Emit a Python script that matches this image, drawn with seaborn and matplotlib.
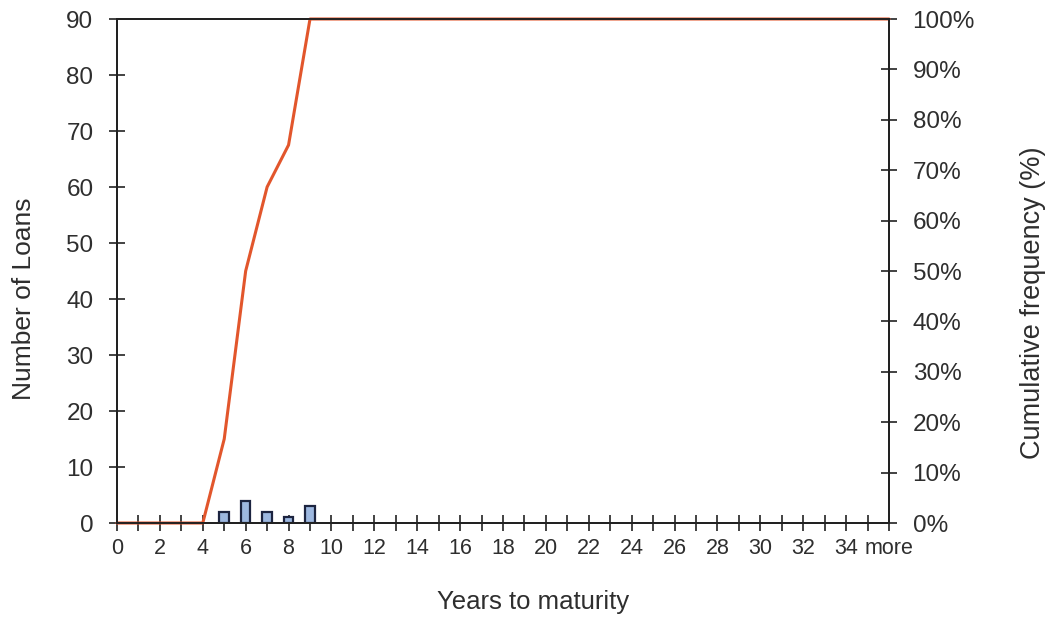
import matplotlib
matplotlib.use("Agg")
import matplotlib.pyplot as plt
import seaborn as sns
import pandas as pd

# Loan counts by years to maturity (bins 0..35 plus an overflow bin)
years = [str(i) for i in range(36)] + ["more"]
loans = [0, 0, 0, 0, 0, 2, 4, 2, 1, 3] + [0] * 27
tick_labels = [str(i) if i % 2 == 0 else "" for i in range(36)] + ["more"]

total = sum(loans)
cum_pct = []
running = 0
for n in loans:
    running += n
    cum_pct.append(100.0 * running / total)

df = pd.DataFrame({"years": years, "loans": loans,
                   "pos": list(range(len(years))), "cum": cum_pct})
# empty bins get no bar (avoids outlining zero-height bars on the axis)
bars = df[df["loans"] > 0]

sns.set_theme(style="white")
plt.rcParams["font.family"] = ["Liberation Sans", "DejaVu Sans"]
text_color = "#2e2e2e"
spine_color = "#222222"

fig = plt.figure(figsize=(10.47, 6.17), dpi=100)
ax = fig.add_axes([117 / 1047, 1 - 523 / 617, (889 - 117) / 1047, (523 - 19) / 617])

sns.barplot(data=bars, x="years", y="loans", order=years, ax=ax,
            color="#9db8e0", edgecolor="#1c2440", linewidth=1.6,
            width=0.45, saturation=1)

ax.set_xlim(0, len(years) - 1)
ax.set_ylim(0, 90)
ax.set_yticks(range(0, 91, 10))
ax.set_xticks(range(len(years)))
ax.set_xticklabels(tick_labels)
ax.set_xlabel("Years to maturity", fontsize=18.5, color=text_color)
ax.set_ylabel("Number of Loans", fontsize=19, color=text_color)
ax.xaxis.set_label_coords(0.539, -0.132)
ax.yaxis.set_label_coords(-0.105, 0.444)

ax2 = ax.twinx()
sns.lineplot(data=df, x="pos", y="cum", ax=ax2, color="#e2562c",
             linewidth=2.2, clip_on=False)
ax2.set_xlim(0, len(years) - 1)
ax2.set_ylim(0, 100)
ax2.set_yticks(range(0, 101, 10))
ax2.set_yticklabels([f"{v}%" for v in range(0, 101, 10)])
ax2.set_ylabel("Cumulative frequency (%)", fontsize=19.5, color=text_color)
ax2.yaxis.set_label_coords(1.170, 0.437)

for a in (ax, ax2):
    for s in a.spines.values():
        s.set_color(spine_color)
        s.set_linewidth(1.4)
    a.grid(False)

ax.tick_params(axis="x", bottom=True, direction="inout", length=12, width=1.2,
               color=spine_color, labelsize=15.5, labelcolor=text_color, pad=5)
ax.tick_params(axis="y", left=True, direction="inout", length=12, width=1.2,
               color=spine_color, labelsize=17.5, labelcolor=text_color, pad=11)
ax2.tick_params(axis="y", right=True, direction="inout", length=12, width=1.2,
                color=spine_color, labelsize=17.5, labelcolor=text_color, pad=11)

fig.savefig("out.png", dpi=100, facecolor="white")
